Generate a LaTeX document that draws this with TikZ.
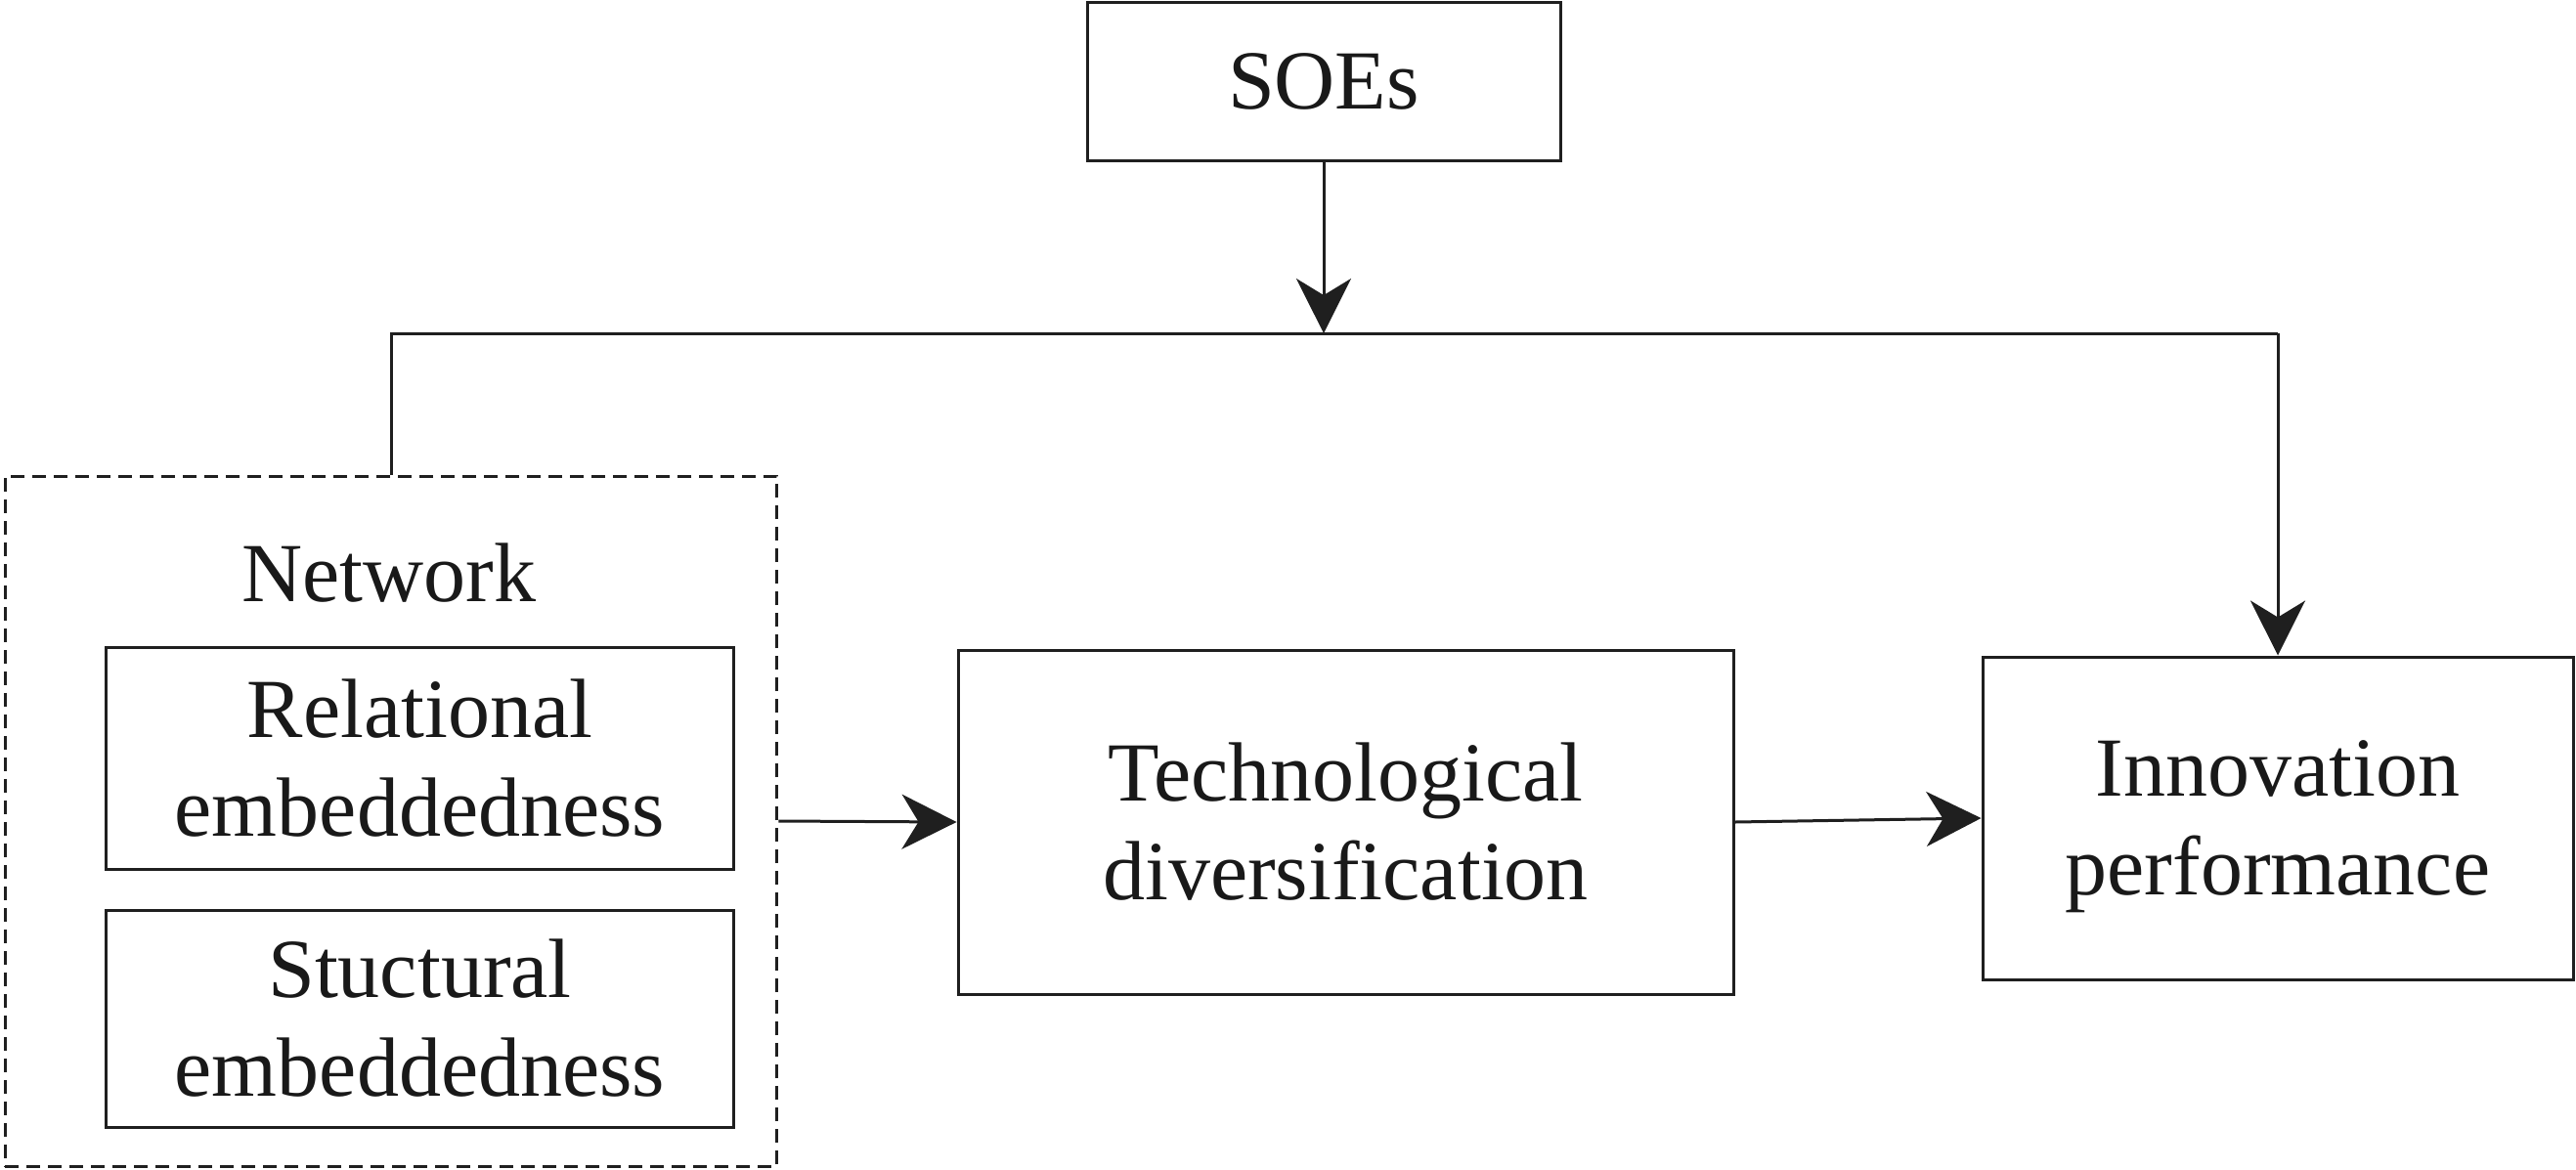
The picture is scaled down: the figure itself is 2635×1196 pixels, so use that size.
\documentclass[tikz,border=0pt]{standalone}
\usepackage{fontspec}
\setmainfont{Liberation Serif}
\usetikzlibrary{arrows.meta}
\begin{document}
\begin{tikzpicture}[x=0.1pt,y=-0.1pt,
  txt/.style={font=\fontsize{8.6}{10.1}\selectfont, text=black!90},
  box/.style={draw=black!88, line width=0.3pt, inner sep=0pt, align=center, txt},
  dbox/.style={draw=black!88, line width=0.3pt, inner sep=0pt, dash pattern=on 1.4pt off 0.8pt},
  ln/.style={draw=black!88, line width=0.3pt},
  arr/.style={ln, -{Stealth[length=5.6pt,width=5.6pt,inset=1.7pt]}}]
\useasboundingbox (0,0) rectangle (2635,1196);
\node[box, minimum width=48.4pt, minimum height=16.3pt] (soe) at (1354,83.5) {SOEs};
\node[dbox, minimum width=79pt, minimum height=70.6pt] (net) at (400,840) {};
\node[txt, anchor=base] (nlab) at (398,615) {Network};
\node[box, minimum width=64.3pt, minimum height=22.7pt] (rel) at (429.5,775.5) {Relational\\embeddedness};
\node[box, minimum width=64.3pt, minimum height=22.2pt] (str) at (429.5,1042) {Stuctural\\embeddedness};
\node[box, minimum width=79.3pt, minimum height=35.2pt] (tech) at (1376.5,841) {Technological\\diversification};
\node[box, minimum width=60.4pt, minimum height=33pt, text depth=0pt] (inn) at (2330,837) {Innovation\\performance};
\coordinate (jm) at (1354,341);
\draw[ln] (net.north) -- (net.north |- jm) -- (inn.north |- jm);
\draw[arr] (inn.north |- jm) -- (inn.north);
\draw[arr] (soe.south) -- (jm);
\draw[arr] (net.east) -- (tech.west);
\draw[arr] (tech.east) -- (inn.west);
\end{tikzpicture}
\end{document}
